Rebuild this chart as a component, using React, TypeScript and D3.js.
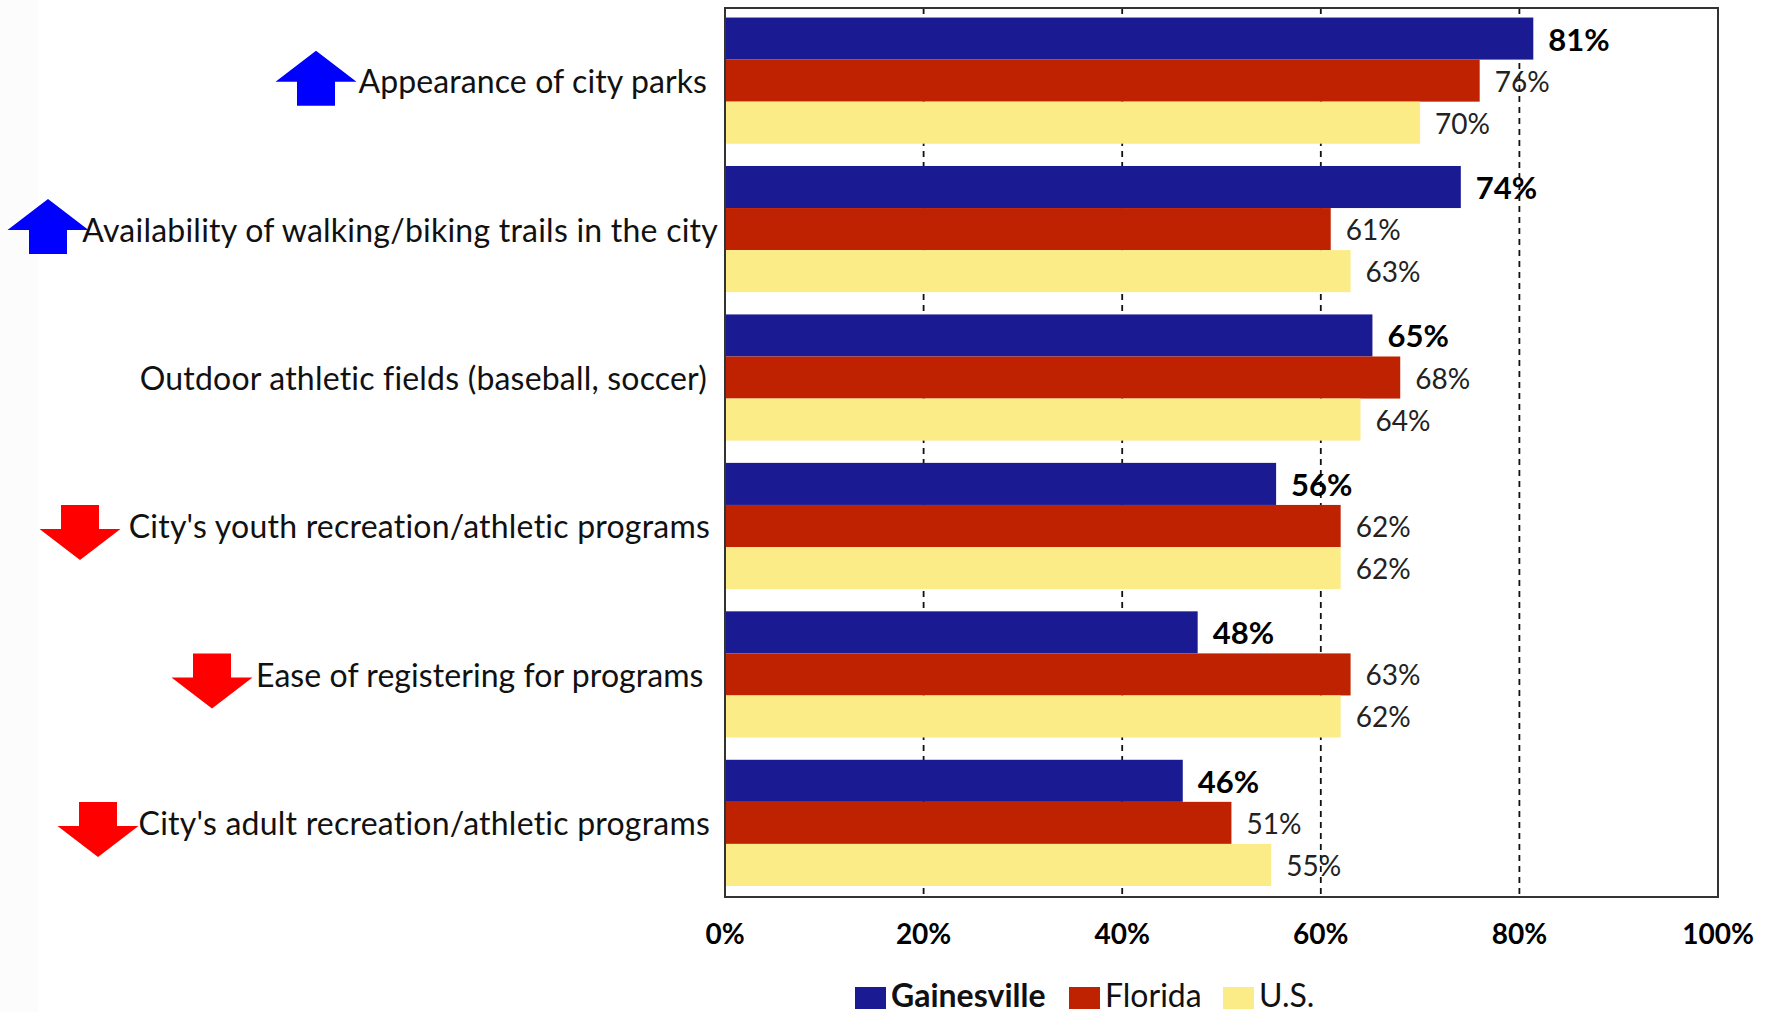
import React from "react";
import * as d3 from "d3";

const categories = [
  "Appearance of city parks",
  "Availability of walking/biking trails in the city",
  "Outdoor athletic fields (baseball, soccer)",
  "City's youth recreation/athletic programs",
  "Ease of registering for programs",
  "City's adult recreation/athletic programs",
];
const gainesville = [81.4, 74.1, 65.2, 55.5, 47.6, 46.1];
const florida = [76, 61, 68, 62, 63, 51];
const us = [70, 63, 64, 62, 62, 55];
const seriesNames = ["Gainesville", "Florida", "U.S."];
const seriesColors = ["#1a1a92", "#bf2200", "#fbec88"];
const ticks = [0, 20, 40, 60, 80, 100];
const trend = [1, 1, 0, -1, -1, -1];

const W = 1771, H = 1012;
const L = 725, R = 1718, T = 8, B = 897;
const labelRight = [707, 718, 707, 710, 703.5, 710];
const labelSpacing = [0.1, 0.23, 0.19, 0.22, 0.07, 0.22];
const arrowCx = [316, 48, 0, 80, 212, 98];
const legendX = [855, 1069, 1223];
const legendTextX = [891, 1105, 1259];
const FONT = "Lato, 'Open Sans', sans-serif";

export default function App() {
  const x = d3.scaleLinear().domain([0, 100]).range([L, R]);
  const y0 = d3.scaleBand<number>().domain(d3.range(6)).range([6.4, 897.1]).paddingInner(0.15).paddingOuter(0.075);
  const y1 = d3.scaleBand<number>().domain([0, 1, 2]).range([0, y0.bandwidth()]);
  const series = [gainesville, florida, us];
  const arrow = (cx: number, cy: number, dir: number) => {
    const up: [number, number][] = [[0, -30], [40.5, 1], [19, 1], [19, 25], [-19, 25], [-19, 1], [-40.5, 1]];
    const pts = up.map(([a, b]) => [cx + a, dir > 0 ? cy + b : cy - b + 4] as [number, number]);
    return d3.line()(pts) + "Z";
  };
  return (
    <svg width={W} height={H} style={{ position: "absolute", left: 0, top: 0, background: "#fff", fontVariantLigatures: "none" }} fontFamily={FONT}>
      <rect x={0} y={0} width={38} height={H} fill="#fcfcfc" />
      {ticks.slice(1, 5).map(t => (
        <line key={t} x1={x(t)} x2={x(t)} y1={T} y2={B} stroke="#111" strokeWidth={1.8} strokeDasharray="6 5" />
      ))}
      {categories.map((c, i) => series.map((s, j) => (
        <rect key={c + j} x={x(0)} width={x(s[i]) - x(0)} y={y0(i)! + y1(j)!} height={y1.bandwidth()} fill={seriesColors[j]} />
      )))}
      <rect x={L} y={T} width={R - L} height={B - T} fill="none" stroke="#333" strokeWidth={2} />
      {categories.map((c, i) => series.map((s, j) => (
        <text key={c + j} x={x(s[i]) + 15} y={y0(i)! + y1(j)! + y1.bandwidth() / 2} dominantBaseline="central"
          fontSize={j === 0 ? 31 : 28} fontWeight={j === 0 ? 700 : 400} fill={j === 0 ? "#000" : "#222"}>{Math.round(s[i])}%</text>
      )))}
      {categories.map((c, i) => (
        <text key={c} x={labelRight[i]} y={y0(i)! + y0.bandwidth() / 2} textAnchor="end" dominantBaseline="central" fontSize={32} letterSpacing={labelSpacing[i]} fill="#111">{c}</text>
      ))}
      {trend.map((d, i) => d === 0 ? null : (
        <path key={i} d={arrow(arrowCx[i], y0(i)! + y0.bandwidth() / 2, d)} fill={d > 0 ? "#0000ff" : "#ff0000"} />
      ))}
      {ticks.map(t => (
        <text key={t} x={x(t)} y={933} textAnchor="middle" dominantBaseline="central" fontSize={28} fontWeight={700} fill="#000">{t}%</text>
      ))}
      {seriesNames.map((n, j) => (
        <g key={n}>
          <rect x={legendX[j]} y={987} width={31} height={22} fill={seriesColors[j]} />
          <text x={legendTextX[j]} y={1006.5} fontSize={32} fontWeight={j === 0 ? 700 : 400} fill="#111">{n}</text>
        </g>
      ))}
    </svg>
  );
}
